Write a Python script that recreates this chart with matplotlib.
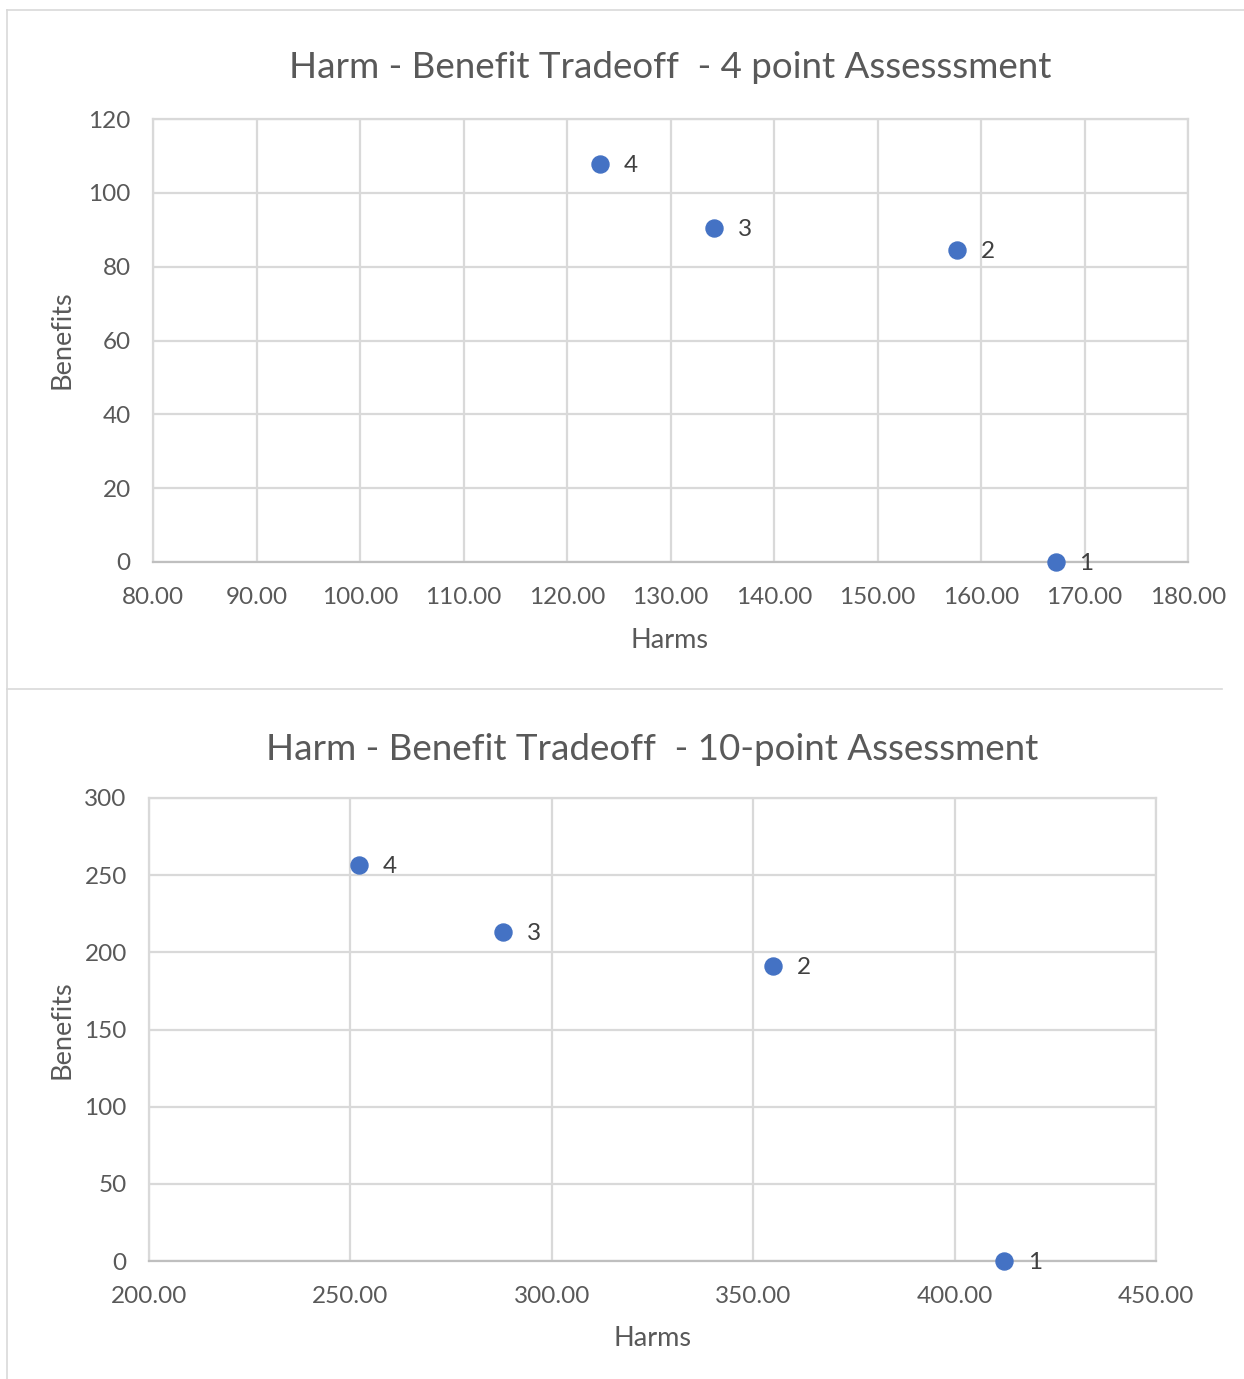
import matplotlib
matplotlib.use("Agg")
import matplotlib.pyplot as plt
from matplotlib.lines import Line2D

plt.rcParams['font.family'] = ['Lato', 'DejaVu Sans']

# --- data: 4 point assessment ---
harms_4pt = [167.2, 157.7, 134.2, 123.2]
benefits_4pt = [0, 84.5, 90.5, 107.8]
labels_4pt = ["1", "2", "3", "4"]

# --- data: 10 point assessment ---
harms_10pt = [412.3, 354.9, 287.9, 252.1]
benefits_10pt = [0, 191.1, 213.2, 256.6]
labels_10pt = ["1", "2", "3", "4"]

grid_col = "#d9d9d9"
text_col = "#595959"
dot_col = "#4472c4"

fig = plt.figure(figsize=(12.44, 13.79), dpi=100)
W, H = 1244, 1379


def px(x0, y0, x1, y1):
    # pixel box -> figure fraction [left, bottom, width, height]
    return [x0 / W, 1 - y1 / H, (x1 - x0) / W, (y1 - y0) / H]


def scatter_panel(ax, xs, ys, labels, xlim, xticks, ylim, yticks):
    ax.scatter(xs, ys, s=150, color=dot_col, zorder=3, clip_on=False)
    for x, y, t in zip(xs, ys, labels):
        ax.annotate(t, (x, y), xytext=(17, -1), textcoords="offset points",
                    ha="left", va="center", fontsize=17.5, color="#404040")
    ax.set_xlim(*xlim)
    ax.set_ylim(*ylim)
    ax.set_xticks(xticks)
    ax.set_yticks(yticks)
    ax.set_xticklabels([f"{v:.2f}" for v in xticks])
    ax.grid(True, color=grid_col, linewidth=1.6)
    ax.set_axisbelow(True)
    for s in ax.spines.values():
        s.set_color(grid_col)
        s.set_linewidth(1.6)
    ax.spines["bottom"].set_color("#bfbfbf")
    ax.tick_params(length=0, labelsize=17.5, labelcolor=text_col)
    ax.tick_params(axis="x", pad=18)
    ax.tick_params(axis="y", pad=16)


ax1 = fig.add_axes(px(153, 119, 1188, 562))
scatter_panel(ax1, harms_4pt, benefits_4pt, labels_4pt,
              (80, 180), list(range(80, 181, 10)), (0, 120), list(range(0, 121, 20)))
ax2 = fig.add_axes(px(149, 798, 1156, 1261))
scatter_panel(ax2, harms_10pt, benefits_10pt, labels_10pt,
              (200, 450), list(range(200, 451, 50)), (0, 300), list(range(0, 301, 50)))

# titles and axis labels
fig.text(670 / W, 1 - 67 / H, "Harm - Benefit Tradeoff  - 4 point Assesssment",
         ha="center", va="center", fontsize=26.5, color=text_col)
fig.text(652 / W, 1 - 750 / H, "Harm - Benefit Tradeoff  - 10-point Assessment",
         ha="center", va="center", fontsize=26.5, color=text_col)
fig.text(670 / W, 1 - 640 / H, "Harms", ha="center", va="center", fontsize=19.5, color=text_col)
fig.text(652 / W, 1 - 1338 / H, "Harms", ha="center", va="center", fontsize=19.5, color=text_col)
fig.text(62 / W, 1 - 340 / H, "Benefits", ha="center", va="center", rotation=90,
         fontsize=19.5, color=text_col)
fig.text(62 / W, 1 - 1030 / H, "Benefits", ha="center", va="center", rotation=90,
         fontsize=19.5, color=text_col)

# chart area borders
border = "#d9d9d9"
for (x0, y0, x1, y1) in [(7, 10, 1244, 10), (7, 10, 7, 689), (7, 689, 1222, 689),
                         (7, 690, 7, 1379)]:
    fig.add_artist(Line2D([x0 / W, x1 / W], [1 - y0 / H, 1 - y1 / H],
                          transform=fig.transFigure, color=border, linewidth=1.2))

fig.savefig("out.png", dpi=100)
